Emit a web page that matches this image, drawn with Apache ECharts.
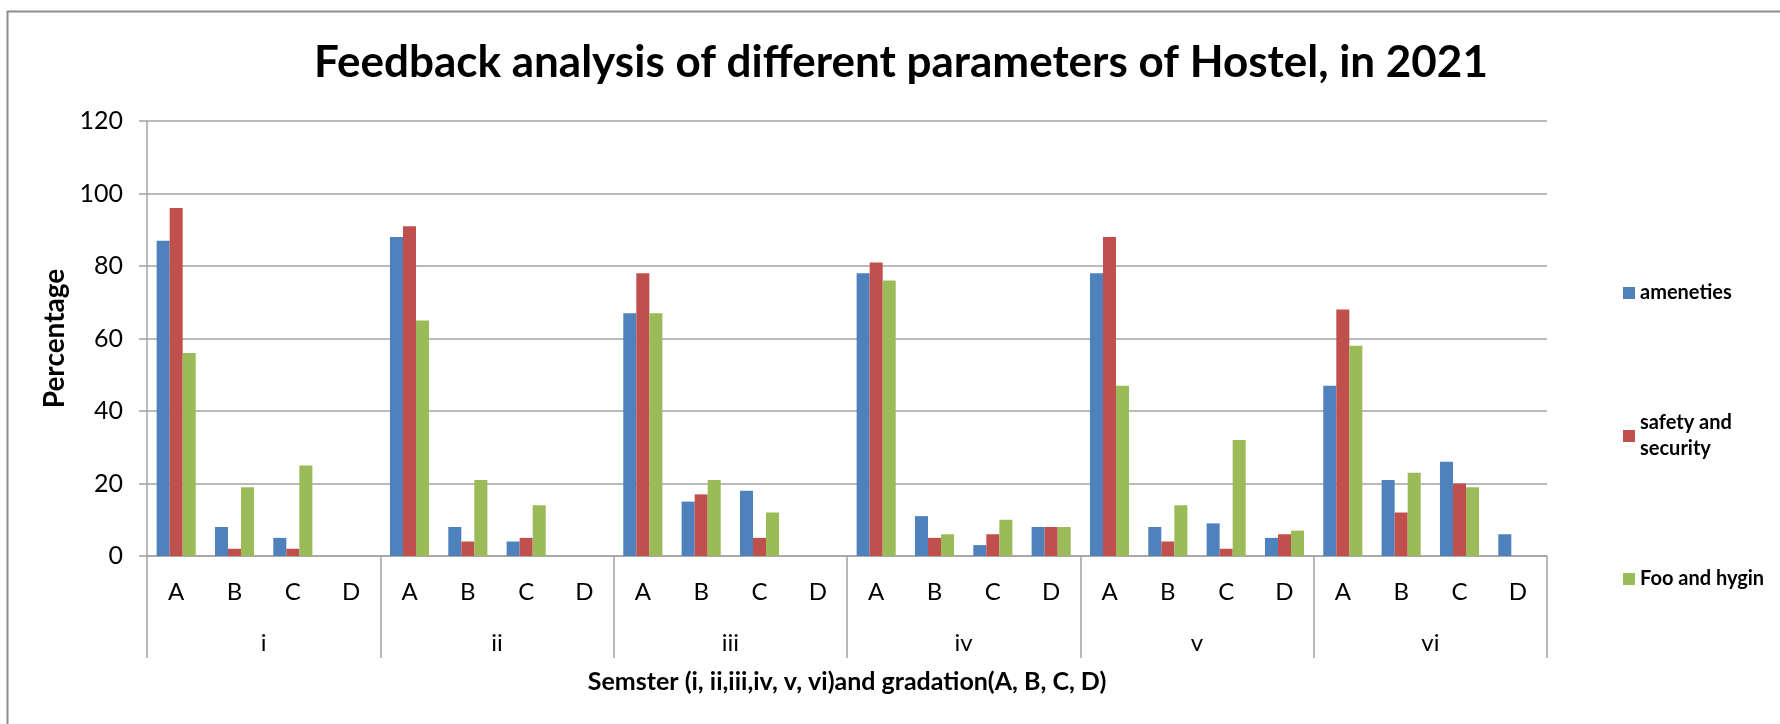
<!DOCTYPE html>
<html>
<head>
<meta charset="utf-8">
<script src="https://cdn.jsdelivr.net/npm/echarts@6/dist/echarts.min.js"></script>
<style>
html,body{margin:0;padding:0;background:#fff;}
#chart{width:1780px;height:724px;}
</style>
</head>
<body>
<div id="chart"></div>
<script>
const grades = ['A','B','C','D','A','B','C','D','A','B','C','D','A','B','C','D','A','B','C','D','A','B','C','D'];
const semesters = ['i','ii','iii','iv','v','vi'];
const seriesNames = ['ameneties','safety and security','Foo and hygin'];
const ameneties = [87,8,5,0, 88,8,4,0, 67,15,18,0, 78,11,3,8, 78,8,9,5, 47,21,26,6];
const safety    = [96,2,2,0, 91,4,5,0, 78,17,5,0, 81,5,6,8, 88,4,2,6, 68,12,20,0];
const food      = [56,19,25,0, 65,21,14,0, 67,21,12,0, 76,6,10,8, 47,14,32,7, 58,23,19,0];
const yTicks = {min:0, max:120, interval:20};

const FONT = 'Lato';
const GRAY = '#a3a3a3';
const colors = ['#4F81BD','#C0504D','#9BBB59'];

const chart = echarts.init(document.getElementById('chart'));
function legend(name, top, extra){
  return Object.assign({
    data:[name], left:1623, top:top, padding:0, orient:'vertical',
    itemWidth:12, itemHeight:12, itemGap:0, selectedMode:false,
    icon:'rect',
    textStyle:{fontFamily:FONT, fontSize:20, fontWeight:'bold', color:'#000', lineHeight:26}
  }, extra||{});
}
chart.setOption({
  animation:false,
  color:colors,
  title:{
    text:'Feedback analysis of different parameters of Hostel, in 2021',
    left:901, top:41, padding:0, textAlign:'center',
    textStyle:{fontFamily:FONT, fontSize:44, fontWeight:'bold', color:'#000'}
  },
  graphic:[{type:'rect', left:5, top:9, shape:{width:1900, height:900}, style:{fill:'none', stroke:'#8c8c8c', lineWidth:2}, silent:true}],
  legend:[
    legend(seriesNames[0], 280),
    legend(seriesNames[1], 397, {formatter:function(){return 'safety and\nsecurity';},
      textStyle:{fontFamily:FONT, fontSize:20, fontWeight:'bold', color:'#000', lineHeight:26, padding:[26,0,0,0]}}),
    legend(seriesNames[2], 566)
  ],
  grid:{left:147, right:233, top:121, bottom:168, containLabel:false},
  xAxis:[
    {type:'category', data:grades, position:'bottom',
     axisLine:{show:true, lineStyle:{color:GRAY, width:1.5}},
     axisTick:{show:false},
     axisLabel:{interval:0, margin:24, fontFamily:FONT, fontSize:24, color:'#000'}},
    {type:'category', data:semesters, position:'bottom',
     axisLine:{show:false},
     axisTick:{show:true, length:102, interval:0, lineStyle:{color:GRAY, width:1.5}},
     axisLabel:{interval:0, margin:75, fontFamily:FONT, fontSize:24, color:'#000'},
     splitLine:{show:false},
     name:'Semster (i, ii,iii,iv, v, vi)and gradation(A, B, C, D)',
     nameLocation:'middle', nameGap:113,
     nameTextStyle:{fontFamily:FONT, fontSize:25, fontWeight:'bold', color:'#000'}}
  ],
  yAxis:{
    type:'value', min:yTicks.min, max:yTicks.max, interval:yTicks.interval,
    axisLine:{show:true, lineStyle:{color:GRAY, width:1.5}},
    axisTick:{show:true, length:8, lineStyle:{color:GRAY, width:1.5}},
    axisLabel:{margin:24, fontFamily:FONT, fontSize:25, color:'#000'},
    splitLine:{show:true, lineStyle:{color:GRAY, width:1.5}},
    name:'Percentage', nameLocation:'middle', nameGap:72,
    nameTextStyle:{fontFamily:FONT, fontSize:28, fontWeight:'bold', color:'#000'}
  },
  series:[
    {name:seriesNames[0], type:'bar', data:ameneties, barGap:'0%', barCategoryGap:'33%'},
    {name:seriesNames[1], type:'bar', data:safety, barGap:'0%', barCategoryGap:'33%'},
    {name:seriesNames[2], type:'bar', data:food, barGap:'0%', barCategoryGap:'33%'}
  ]
});
</script>
</body>
</html>
